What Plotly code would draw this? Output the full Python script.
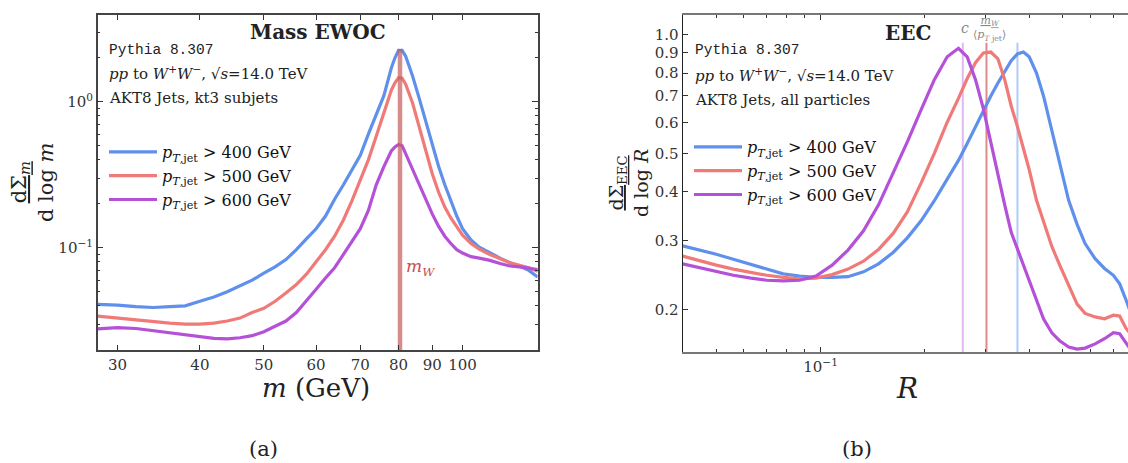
import plotly.graph_objects as go

W, H = 1128, 463

# ---------------- data: Mass EWOC (left) ----------------
mass_m = [28, 30, 32, 34, 36, 38, 40, 42, 44, 46, 48, 50, 52, 54, 56, 58, 60, 62, 64, 66, 68, 70,
          72, 74, 76, 78, 79, 80, 81, 82, 84, 86, 88, 90, 92, 94, 96, 98, 100, 103, 106, 110,
          114, 118, 122, 126, 130]
mass_pt400 = [0.041, 0.0405, 0.0395, 0.039, 0.0395, 0.040, 0.043, 0.046, 0.050, 0.055, 0.060, 0.067,
              0.074, 0.083, 0.097, 0.115, 0.135, 0.165, 0.215, 0.27, 0.34, 0.43,
              0.60, 0.82, 1.1, 1.7, 2.0, 2.25, 2.25, 2.05, 1.5, 1.05, 0.72, 0.50, 0.36, 0.27, 0.21,
              0.165, 0.135, 0.113, 0.101, 0.092, 0.085, 0.079, 0.075, 0.070, 0.063]
mass_pt500 = [0.034, 0.033, 0.032, 0.031, 0.0305, 0.030, 0.030, 0.0305, 0.0315, 0.033, 0.036, 0.0385,
              0.043, 0.049, 0.056, 0.066, 0.080, 0.097, 0.12, 0.155, 0.21, 0.29,
              0.40, 0.58, 0.85, 1.2, 1.35, 1.46, 1.45, 1.32, 0.98, 0.66, 0.45, 0.32, 0.24, 0.19, 0.16,
              0.138, 0.122, 0.107, 0.098, 0.090, 0.084, 0.079, 0.076, 0.073, 0.069]
mass_pt600 = [0.0278, 0.0284, 0.028, 0.027, 0.026, 0.0252, 0.0246, 0.024, 0.0238, 0.0242, 0.025, 0.0266,
              0.029, 0.0315, 0.036, 0.043, 0.052, 0.062, 0.073, 0.09, 0.11, 0.135,
              0.18, 0.27, 0.36, 0.46, 0.49, 0.51, 0.50, 0.44, 0.34, 0.27, 0.215, 0.17, 0.14, 0.12, 0.107,
              0.097, 0.092, 0.087, 0.085, 0.082, 0.078, 0.075, 0.074, 0.072, 0.071]
m_W = 80.4

# ---------------- data: EEC (right) ----------------
eec_R = [0.040, 0.045, 0.050, 0.056, 0.063, 0.070, 0.078, 0.087, 0.097, 0.108, 0.120, 0.133, 0.147,
         0.162, 0.178, 0.195, 0.213, 0.232, 0.25, 0.265, 0.28, 0.295, 0.31, 0.325, 0.34, 0.355,
         0.37, 0.385, 0.40, 0.42, 0.44, 0.465, 0.49, 0.52, 0.55, 0.58, 0.62, 0.66, 0.70, 0.73,
         0.76, 0.78]
eec_pt400 = [0.291, 0.284, 0.277, 0.269, 0.261, 0.253, 0.247, 0.244, 0.242, 0.242, 0.243, 0.250, 0.262,
             0.280, 0.305, 0.337, 0.379, 0.43, 0.48, 0.53, 0.585, 0.64, 0.70, 0.755, 0.81, 0.86,
             0.895, 0.905, 0.88, 0.80, 0.70, 0.57, 0.47, 0.38, 0.33, 0.295, 0.27, 0.255, 0.245, 0.233,
             0.213, 0.20]
eec_pt500 = [0.274, 0.266, 0.260, 0.254, 0.249, 0.245, 0.242, 0.240, 0.241, 0.246, 0.254, 0.266, 0.285,
             0.313, 0.355, 0.42, 0.50, 0.60, 0.69, 0.775, 0.85, 0.90, 0.905, 0.87, 0.77, 0.66,
             0.585, 0.515, 0.455, 0.38, 0.335, 0.29, 0.26, 0.23, 0.207, 0.196, 0.192, 0.19, 0.194, 0.193,
             0.18, 0.175]
eec_pt600 = [0.262, 0.256, 0.250, 0.245, 0.241, 0.238, 0.237, 0.238, 0.244, 0.260, 0.284, 0.318, 0.37,
             0.445, 0.535, 0.645, 0.77, 0.88, 0.925, 0.88, 0.77, 0.65, 0.53, 0.44, 0.37, 0.315,
             0.285, 0.262, 0.236, 0.21, 0.19, 0.175, 0.167, 0.161, 0.159, 0.16, 0.164, 0.169, 0.175, 0.174,
             0.166, 0.16]
eec_peak_R = [0.370, 0.3012, 0.2573]   # c*m_W/<pT,jet> for 400, 500, 600 GeV

pt_cuts = ["400", "500", "600"]
colors = ["#5f90ec", "#f07a78", "#b451d8"]
peak_line_colors = ["rgba(150,185,245,0.75)", "rgba(205,100,100,0.75)", "rgba(215,160,235,0.75)"]

SERIF = "DejaVu Serif"
MONO = "Liberation Mono"


def px(x):
    return x / W


def py(y):
    return 1 - y / H


fig = go.Figure()

# ---- left panel curves ----
for vals, c, cut in zip([mass_pt400, mass_pt500, mass_pt600], colors, pt_cuts):
    fig.add_trace(go.Scatter(
        x=mass_m, y=vals, mode="lines", line=dict(color=c, width=3.2),
        name=f"<i>p</i><sub><i>T</i>,jet</sub> > {cut} GeV",
        legend="legend", xaxis="x", yaxis="y", hoverinfo="skip"))

fig.add_trace(go.Scatter(
    x=[m_W, m_W], y=[0.0195, 2.3], mode="lines",
    line=dict(color="rgba(200,95,95,0.72)", width=4.5),
    showlegend=False, xaxis="x", yaxis="y", hoverinfo="skip"))

# ---- right panel ----
for r0, lc in zip(eec_peak_R, peak_line_colors):
    fig.add_trace(go.Scatter(
        x=[r0, r0], y=[0.15, 0.955], mode="lines", line=dict(color=lc, width=2),
        showlegend=False, xaxis="x2", yaxis="y2", hoverinfo="skip"))

for vals, c, cut in zip([eec_pt400, eec_pt500, eec_pt600], colors, pt_cuts):
    fig.add_trace(go.Scatter(
        x=eec_R, y=vals, mode="lines", line=dict(color=c, width=3.2),
        name=f"<i>p</i><sub><i>T</i>,jet</sub> > {cut} GeV",
        legend="legend2", xaxis="x2", yaxis="y2", hoverinfo="skip"))

axis_common = dict(type="log", showgrid=False, zeroline=False, ticks="inside",
                   tickfont=dict(family=SERIF, size=15, color="#333"), showline=True)

left_minor_y = [0.02, 0.03, 0.04, 0.05, 0.06, 0.07, 0.08, 0.09,
                0.2, 0.3, 0.4, 0.5, 0.6, 0.7, 0.8, 0.9, 2, 3]
right_minor_x = [0.04, 0.05, 0.06, 0.07, 0.08, 0.09, 0.2, 0.3, 0.4, 0.5, 0.6, 0.7]

fig.update_layout(
    width=W, height=H, margin=dict(l=0, r=0, t=0, b=0),
    paper_bgcolor="white", plot_bgcolor="white",
    xaxis=dict(axis_common, domain=[px(97.7), px(537.7)], range=[1.4472, 2.1139],
               tickvals=[30, 40, 50, 60, 70, 80, 90, 100],
               ticktext=["30", "40", "50", "60", "70", "80", "90", "100"],
               ticklen=5, tickcolor="#333", linecolor="#444", linewidth=1.5, mirror="ticks",
               anchor="y"),
    yaxis=dict(axis_common, domain=[py(350), py(15)], range=[-1.70, 0.594],
               tickvals=[0.1, 1], ticktext=["10<sup>−1</sup>", "10<sup>0</sup>"],
               ticklen=6, tickcolor="#333", linecolor="#444", linewidth=1.5, mirror="ticks",
               minor=dict(tickvals=left_minor_y, ticks="inside", ticklen=3, tickcolor="#333"),
               anchor="x"),
    xaxis2=dict(axis_common, domain=[px(682.7), 1.0], range=[-1.3979, -0.1127],
                tickvals=[0.1], ticktext=["10<sup>−1</sup>"],
                ticklen=5, tickcolor="#333", linecolor="#777", linewidth=2, mirror="ticks",
                minor=dict(tickvals=right_minor_x, ticks="inside", ticklen=3, tickcolor="#333"),
                anchor="y2"),
    yaxis2=dict(axis_common, domain=[py(352.3), py(15)], range=[-0.8066, 0.0508],
                tickvals=[0.2, 0.3, 0.4, 0.5, 0.6, 0.7, 0.8, 0.9, 1.0],
                ticktext=["0.2", "0.3", "0.4", "0.5", "0.6", "0.7", "0.8", "0.9", "1.0"],
                ticklen=5, tickcolor="#333", linecolor="#222", linewidth=1.2, mirror=False,
                anchor="x2"),
    legend=dict(x=px(104), y=py(135), xanchor="left", yanchor="top",
                bgcolor="rgba(0,0,0,0)", font=dict(family=SERIF, size=16, color="#111"),
                itemwidth=48, tracegroupgap=2),
    legend2=dict(x=px(689), y=py(130), xanchor="left", yanchor="top",
                 bgcolor="rgba(0,0,0,0)", font=dict(family=SERIF, size=16, color="#111"),
                 itemwidth=48, tracegroupgap=2),
    showlegend=True,
)

ann = []


def add_text(x, y, text, size, family=SERIF, color="#222", xanchor="left", yanchor="middle",
             angle=0, align="left"):
    ann.append(dict(x=px(x), y=py(y), xref="paper", yref="paper", text=text, showarrow=False,
                    xanchor=xanchor, yanchor=yanchor, textangle=angle, align=align,
                    font=dict(family=family, size=size, color=color)))


# left panel texts
add_text(317.5, 31.5, "<b>Mass EWOC</b>", 20, xanchor="center")
add_text(107, 50, "Pythia 8.307", 14.5, family=MONO)
add_text(107, 73, "<i>pp</i> to <i>W</i><sup>+</sup><i>W</i><sup>−</sup>, √<i>s</i>=14.0 TeV", 15)
add_text(107, 98, "AKT8 Jets, kt3 subjets", 15)
add_text(404, 267, "<i>m<sub>W</sub></i>", 17, color="#c8504f")

# right panel texts
add_text(908, 32.5, "<b>EEC</b>", 20, xanchor="center")
add_text(965, 28, "<i>c</i>", 14, color="#888", xanchor="center")
add_text(989, 28, "<u><i>m<sub>W</sub></i></u><br>⟨<i>p<sub>T</sub></i><sub> jet</sub>⟩", 11,
         color="#888", xanchor="center", align="center")
add_text(693, 49.5, "Pythia 8.307", 14.5, family=MONO)
add_text(693, 75, "<i>pp</i> to <i>W</i><sup>+</sup><i>W</i><sup>−</sup>, √<i>s</i>=14.0 TeV", 15)
add_text(693, 100, "AKT8 Jets, all particles", 15)

# axis titles
add_text(32, 182, "<u>dΣ<sub><i>m</i></sub></u><br>d log <i>m</i>", 21, xanchor="center",
         angle=-90, align="center")
add_text(316, 388, "<i>m</i> (GeV)", 26, xanchor="center")
add_text(628, 183, "<u>dΣ<sub>EEC</sub></u><br>d log <i>R</i>", 19, xanchor="center",
         angle=-90, align="center")
add_text(907, 388, "<i>R</i>", 28, xanchor="center")
add_text(263, 449, "(a)", 21, xanchor="center")
add_text(857, 449, "(b)", 21, xanchor="center")

fig.update_layout(annotations=ann)

fig.write_html(
    "out.html",
    config={"displayModeBar": False},
    post_script="document.body.style.margin='0px';document.body.style.overflow='hidden';",
)
